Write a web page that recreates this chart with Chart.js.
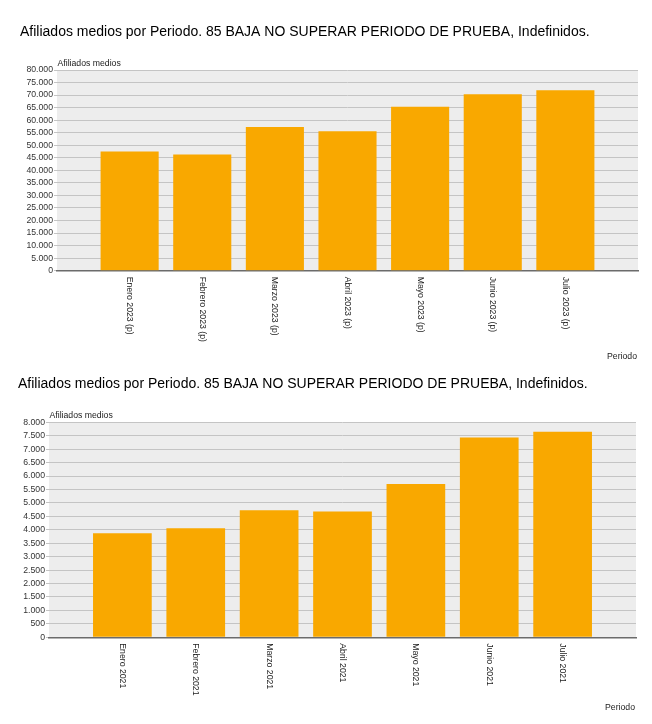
<!DOCTYPE html>
<html lang="es">
<head>
<meta charset="utf-8">
<title>Afiliados medios por Periodo</title>
<script src="https://cdn.jsdelivr.net/npm/chart.js@4.4.0/dist/chart.umd.min.js"></script>
<style>
  body { margin: 0; background: #fff; }
  canvas { display: block; }
</style>
</head>
<body>
<canvas id="chart2023" width="652" height="365"></canvas>
<canvas id="chart2021" width="652" height="359"></canvas>
<script>
// ---------------- DATOS ----------------
const titulo = 'Afiliados medios por Periodo. 85 BAJA NO SUPERAR PERIODO DE PRUEBA, Indefinidos.';
const nombreEjeY = 'Afiliados medios';
const nombreEjeX = 'Periodo';

const periodos2023 = ['Enero 2023 (p)', 'Febrero 2023 (p)', 'Marzo 2023 (p)', 'Abril 2023 (p)', 'Mayo 2023 (p)', 'Junio 2023 (p)', 'Julio 2023 (p)'];
const afiliados2023 = [47500, 46300, 57300, 55600, 65400, 70300, 71900];
const maxY2023 = 80000;
const pasoY2023 = 5000;

const periodos2021 = ['Enero 2021', 'Febrero 2021', 'Marzo 2021', 'Abril 2021', 'Mayo 2021', 'Junio 2021', 'Julio 2021'];
const afiliados2021 = [3870, 4060, 4725, 4680, 5700, 7430, 7650];
const maxY2021 = 8000;
const pasoY2021 = 500;

// ---------------- ESTILO ----------------
const fuente = 'Arial, "Liberation Sans", sans-serif';
const naranja = '#f9a800';

// fondo gris del area y textos de ejes (etiquetas giradas, nombres)
const fondoYEtiquetas = {
  id: 'fondoYEtiquetas',
  beforeDraw(chart) {
    const { ctx, chartArea: a } = chart;
    ctx.save();
    ctx.fillStyle = '#ededed';
    ctx.fillRect(a.left, a.top, a.right - a.left, a.bottom - a.top);
    ctx.restore();
  },
  afterDraw(chart, args, opts) {
    const { ctx, chartArea: a, scales: { x } } = chart;
    ctx.save();
    ctx.fillStyle = '#222';
    ctx.font = '8.7px ' + fuente;
    ctx.textBaseline = 'middle';
    ctx.textAlign = 'left';
    ctx.fillText(nombreEjeY, a.left + 0.5, a.top - 6.5);
    opts.etiquetas.forEach((txt, i) => {
      ctx.save();
      ctx.translate(x.getPixelForValue(i + 1), a.bottom + 6);
      ctx.rotate(Math.PI / 2);
      ctx.fillText(txt, 0, 0);
      ctx.restore();
    });
    ctx.textAlign = 'right';
    ctx.fillText(nombreEjeX, a.right - 1, opts.yNombreX);
    ctx.restore();
  }
};

function miles(v) {
  return String(v).replace(/\B(?=(\d{3})+(?!\d))/g, '.');
}

function crearGrafica(id, etiquetas, valores, maxY, paso, caja) {
  const ctx = document.getElementById(id).getContext('2d');
  return new Chart(ctx, {
    type: 'bar',
    data: {
      // huecos al principio y al final como en el original
      labels: ['', ...etiquetas, ''],
      datasets: [{
        data: [null, ...valores, null],
        backgroundColor: naranja,
        borderWidth: 0,
        categoryPercentage: 1,
        barPercentage: 0.8
      }]
    },
    options: {
      responsive: false,
      animation: false,
      layout: { padding: { left: caja.left, right: caja.right, top: 0, bottom: 0 } },
      plugins: {
        legend: { display: false },
        tooltip: { enabled: false },
        title: {
          display: true,
          text: titulo,
          align: 'start',
          color: '#000',
          font: { family: fuente, size: 14, weight: 'normal' },
          padding: { top: caja.tituloArriba, bottom: caja.tituloAbajo }
        },
        fondoYEtiquetas: { etiquetas: etiquetas, yNombreX: caja.yNombreX }
      },
      scales: {
        x: {
          type: 'category',
          offset: false,
          grid: { display: false },
          ticks: { display: false },
          border: { display: true, color: '#6b6b6b', width: 1.5 },
          afterFit(s) { s.height = caja.altoX; }
        },
        y: {
          min: 0,
          max: maxY,
          ticks: {
            stepSize: paso,
            autoSkip: false,
            padding: 1,
            color: '#333',
            font: { family: fuente, size: 8.7 },
            callback: (v) => miles(v)
          },
          grid: { color: '#c4c4c4', tickLength: 3, drawTicks: true },
          border: { display: false },
          afterFit(s) { s.width = caja.anchoY; }
        }
      }
    },
    plugins: [fondoYEtiquetas]
  });
}

crearGrafica('chart2023', periodos2023, afiliados2023, maxY2023, pasoY2023, {
  left: 20, right: 14, anchoY: 37, altoX: 94.3,
  tituloArriba: 24, tituloAbajo: 29.2, yNombreX: 356.7
});
crearGrafica('chart2021', periodos2021, afiliados2021, maxY2021, pasoY2021, {
  left: 18, right: 16, anchoY: 31, altoX: 86.7,
  tituloArriba: 10.6, tituloAbajo: 29.9, yNombreX: 343
});
</script>
</body>
</html>
